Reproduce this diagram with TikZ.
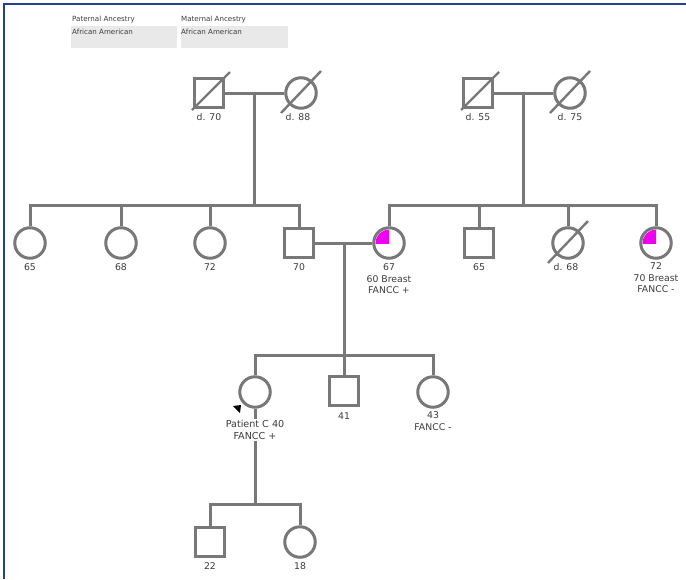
\documentclass[tikz,border=0pt]{standalone}
\usepackage{fontspec}
\setmainfont{DejaVu Sans}
\definecolor{lc}{HTML}{787878}
\definecolor{tc}{HTML}{3C3C3C}
\definecolor{bc}{HTML}{22418F}
\definecolor{hb}{HTML}{E9E9E9}
\definecolor{mg}{HTML}{F000F0}
\begin{document}
\begin{tikzpicture}[x=1pt,y=-1pt,
  ln/.style={draw=lc, line width=3pt},
  male/.style={draw=lc, line width=3pt, rectangle, minimum size=29.5pt, inner sep=0pt, fill=white},
  female/.style={draw=lc, line width=3pt, circle, minimum size=30.5pt, inner sep=0pt, fill=white},
  lbl/.style={text=tc, font=\fontsize{9.3}{11.6}\selectfont, align=center, inner sep=0.6pt, fill=white},
  hdr/.style={text=tc, font=\fontsize{7.1}{8}\selectfont, inner sep=0pt, anchor=west},
  hbox/.style={fill=hb, draw=none}]
\useasboundingbox (0,0) rectangle (686,579);
% frame
\draw[bc, line width=1.6pt] (4.2,579) -- (4.2,4.2) -- (686,4.2);
% header
\fill[hbox] (71,26) rectangle (177,48);
\fill[hbox] (181,26) rectangle (288,48);
\node[hdr] (ph) at (72,20) {Paternal Ancestry};
\node[hdr] (pa) at (72,31.5) {African American};
\node[hdr] (mh) at (181,20) {Maternal Ancestry};
\node[hdr] (ma) at (181,31.5) {African American};
% generation I
\node[male] (pgf) at (209,93) {};
\node[female] (pgm) at (301,93) {};
\node[male] (mgf) at (478,93) {};
\node[female] (mgm) at (570,93) {};
\draw[ln] (pgf) -- (pgm);
\draw[ln] (mgf) -- (mgm);
\coordinate (pc) at (254,93);
\coordinate (ps) at (254,205);
\coordinate (mc) at (523,93);
\coordinate (ms) at (523,205);
\draw[ln] (pc) -- (ps);
\draw[ln] (mc) -- (ms);
% generation II
\node[female] (a1) at (30,243) {};
\node[female] (a2) at (121,243) {};
\node[female] (a3) at (210,243) {};
\node[male] (a4) at (299,243) {};
\node[female] (b1) at (389,243) {};
\node[male] (b2) at (479,243) {};
\node[female] (b3) at (568,243) {};
\node[female] (b4) at (656,243) {};
\draw[ln] (a1.north) |- (ps) -| (a4.north);
\draw[ln] (a2.north) -- (a2.north |- ps);
\draw[ln] (a3.north) -- (a3.north |- ps);
\draw[ln] (b1.north) |- (ms) -| (b4.north);
\draw[ln] (b2.north) -- (b2.north |- ms);
\draw[ln] (b3.north) -- (b3.north |- ms);
% affected quadrants
\foreach \n in {b1,b4}{
  \begin{scope}
    \clip (\n.center) rectangle ([shift={(-20,-20)}]\n.center);
    \fill[mg] (\n.center) circle[radius=13.4pt];
  \end{scope}
}
% deceased slashes
\draw[ln, line width=2.4pt] ([shift={(-17,17)}]pgf.center) -- ([shift={(21,-21)}]pgf.center);
\draw[ln, line width=2.4pt] ([shift={(-20,20)}]pgm.center) -- ([shift={(20,-22)}]pgm.center);
\draw[ln, line width=2.4pt] ([shift={(-17,17)}]mgf.center) -- ([shift={(21,-21)}]mgf.center);
\draw[ln, line width=2.4pt] ([shift={(-20,20)}]mgm.center) -- ([shift={(20,-22)}]mgm.center);
\draw[ln, line width=2.4pt] ([shift={(-20,20)}]b3.center) -- ([shift={(20,-22)}]b3.center);
% marriage and generation III
\draw[ln] (a4) -- (b1);
\coordinate (cc) at (344,243);
\coordinate (cs) at (344,355);
\draw[ln] (cc) -- (cs);
\node[female] (c1) at (255,392) {};
\node[male] (c2) at (344,391) {};
\node[female] (c3) at (433,392) {};
\draw[ln] (c1.north) |- (cs) -| (c3.north);
\draw[ln] (c2.north) -- (c2.north |- cs);
% generation IV
\coordinate (ds) at (255,504);
\node[male] (d1) at (210,542) {};
\node[female] (d2) at (300,542) {};
\draw[ln] (c1.south) -- (ds);
\draw[ln] (d1.north) |- (ds) -| (d2.north);
% proband arrow
\fill[black] (233,406) -- (241,405) -- (240,413) -- cycle;
% labels
\node[lbl] (lpgf) at (209,117) {d. 70};
\node[lbl] (lpgm) at (298,117) {d. 88};
\node[lbl] (lmgf) at (478,117) {d. 55};
\node[lbl] (lmgm) at (570,117) {d. 75};
\node[lbl] (la1) at (30,267) {65};
\node[lbl] (la2) at (121,267) {68};
\node[lbl] (la3) at (210,267) {72};
\node[lbl] (la4) at (299,267) {70};
\node[lbl] (lb1) at (389,279) {67\\60 Breast\\FANCC +};
\node[lbl] (lb2) at (479,267) {65};
\node[lbl] (lb3) at (566,267) {d. 68};
\node[lbl] (lb4) at (656,278) {72\\70 Breast\\FANCC -};
\node[lbl, font=\fontsize{9.6}{12.8}\selectfont] (lc1) at (255,430) {Patient C 40\\FANCC +};
\node[lbl] (lc2) at (344,416) {41};
\node[lbl] (lc3) at (433,421) {43\\FANCC -};
\node[lbl] (ld1) at (210,566) {22};
\node[lbl] (ld2) at (300,566) {18};
\end{tikzpicture}
\end{document}
